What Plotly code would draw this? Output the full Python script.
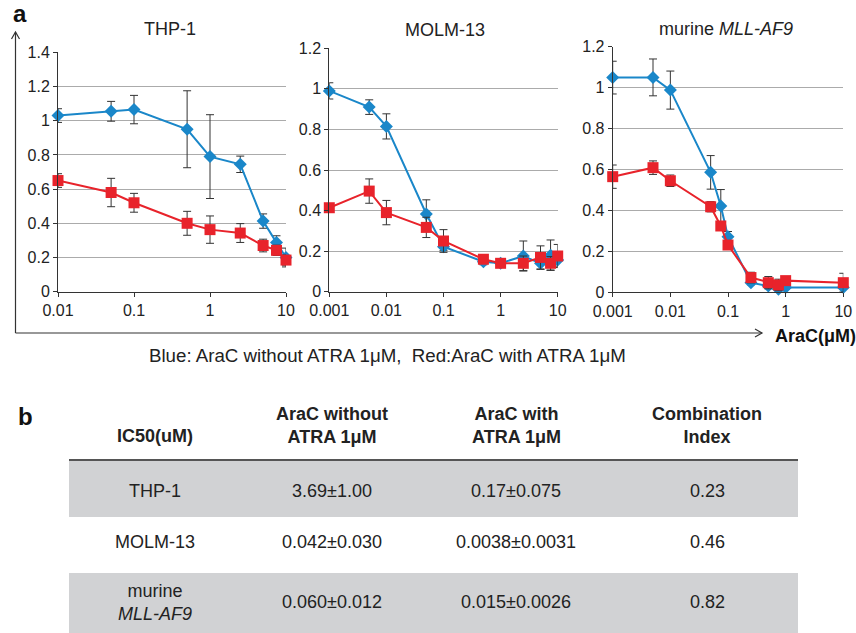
import plotly.graph_objects as go

W, H = 856, 633

# ---------------- data ----------------
thp_x = [0.01, 0.05, 0.1, 0.5, 1, 2.5, 5, 7.5, 10]
thp_blue = [1.03, 1.055, 1.065, 0.95, 0.79, 0.745, 0.413, 0.287, 0.20]
thp_blue_err = [0.04, 0.058, 0.083, 0.225, 0.245, 0.048, 0.042, 0.04, 0.055]
thp_red = [0.65, 0.58, 0.52, 0.40, 0.363, 0.343, 0.27, 0.242, 0.185]
thp_red_err = [0.04, 0.083, 0.055, 0.07, 0.08, 0.055, 0.037, 0.03, 0.03]

molm_x = [0.001, 0.005, 0.01, 0.05, 0.1, 0.5, 1, 2.5, 5, 7.5, 10]
molm_blue = [0.99, 0.91, 0.815, 0.383, 0.222, 0.148, 0.14, 0.176, 0.14, 0.18, 0.156]
molm_blue_err = [0.04, 0.036, 0.062, 0.07, 0.02, 0.015, 0.01, 0.074, 0.03, 0.075, 0.03]
molm_red = [0.414, 0.496, 0.39, 0.317, 0.25, 0.16, 0.14, 0.14, 0.169, 0.14, 0.176]
molm_red_err = [0.0, 0.06, 0.06, 0.05, 0.056, 0.02, 0.01, 0.036, 0.057, 0.033, 0.057]

mll_x = [0.001, 0.005, 0.01, 0.05, 0.075, 0.1, 0.25, 0.5, 0.75, 1, 10]
mll_blue = [1.049, 1.05, 0.988, 0.586, 0.422, 0.272, 0.047, 0.031, 0.015, 0.024, 0.024]
mll_blue_err = [0.08, 0.09, 0.093, 0.082, 0.08, 0.025, 0.01, 0.01, 0.04, 0.01, 0.01]
mll_red = [0.565, 0.609, 0.545, 0.418, 0.324, 0.231, 0.072, 0.047, 0.036, 0.057, 0.047]
mll_red_err = [0.057, 0.033, 0.028, 0.025, 0.02, 0.02, 0.026, 0.03, 0.028, 0.01, 0.046]

panel_titles = ["THP-1", "MOLM-13", "murine <i>MLL-AF9</i>"]
x_ticks_1 = [0.01, 0.1, 1, 10]
x_ticks_1_text = ["0.01", "0.1", "1", "10"]
x_ticks_23 = [0.001, 0.01, 0.1, 1, 10]
x_ticks_23_text = ["0.001", "0.01", "0.1", "1", "10"]
y_ticks_1 = [0, 0.2, 0.4, 0.6, 0.8, 1.0, 1.2, 1.4]
y_ticks_1_text = ["0", "0.2", "0.4", "0.6", "0.8", "1", "1.2", "1.4"]
y_ticks_23 = [0, 0.2, 0.4, 0.6, 0.8, 1.0, 1.2]
y_ticks_23_text = ["0", "0.2", "0.4", "0.6", "0.8", "1", "1.2"]

legend_text = "Blue: AraC without ATRA 1μM,  Red:AraC with ATRA 1μM"
axis_label = "AraC(μM)"

table_header = ["IC50(uM)", "AraC without<br>ATRA 1μM", "AraC with<br>ATRA 1μM", "Combination<br>Index"]
table_rows = [
    ["THP-1", "3.69±1.00", "0.17±0.075", "0.23"],
    ["MOLM-13", "0.042±0.030", "0.0038±0.0031", "0.46"],
    ["murine<br><i>MLL-AF9</i>", "0.060±0.012", "0.015±0.0026", "0.82"],
]

# ---------------- style ----------------
BLUE = "#1a87c9"
RED = "#e8232b"
FONT = "Liberation Sans, Arial, Helvetica, sans-serif"
TXT = "#222222"
TICK_SIZE = 16
TITLE_SIZE = 18
TEXT_SIZE = 18

def px(x):
    return x / W

def py(y):
    return 1 - y / H

fig = go.Figure()

panels = [
    (thp_x, thp_blue, thp_blue_err, thp_red, thp_red_err),
    (molm_x, molm_blue, molm_blue_err, molm_red, molm_red_err),
    (mll_x, mll_blue, mll_blue_err, mll_red, mll_red_err),
]

for i, (xs, yb, eb, yr, er) in enumerate(panels):
    xa = "x" if i == 0 else f"x{i+1}"
    ya = "y" if i == 0 else f"y{i+1}"
    fig.add_trace(go.Scatter(
        x=xs, y=yb, xaxis=xa, yaxis=ya, mode="lines+markers",
        line=dict(color=BLUE, width=2),
        marker=dict(symbol="diamond", size=10, color=BLUE),
        error_y=dict(type="data", array=eb, color="#333333", thickness=1, width=4),
        cliponaxis=False, showlegend=False, hoverinfo="skip",
    ))
    fig.add_trace(go.Scatter(
        x=xs, y=yr, xaxis=xa, yaxis=ya, mode="lines+markers",
        line=dict(color=RED, width=2),
        marker=dict(symbol="square", size=11, color=RED),
        error_y=dict(type="data", array=er, color="#333333", thickness=1, width=4),
        cliponaxis=False, showlegend=False, hoverinfo="skip",
    ))

# panel geometry in pixels: (left, right, top, bottom)
geo = [(58, 286, 52.3, 291.7), (329.3, 557.7, 48.3, 291.7), (612.7, 843.3, 46.7, 292.3)]
xr = [[-2, 1], [-3, 1], [-3, 1]]
yr_ = [[0, 1.4], [0, 1.2], [0, 1.2]]
xt = [(x_ticks_1, x_ticks_1_text), (x_ticks_23, x_ticks_23_text), (x_ticks_23, x_ticks_23_text)]
yt = [(y_ticks_1, y_ticks_1_text), (y_ticks_23, y_ticks_23_text), (y_ticks_23, y_ticks_23_text)]

layout_axes = {}
for i in range(3):
    l, r, t, b = geo[i]
    sfx = "" if i == 0 else str(i + 1)
    layout_axes[f"xaxis{sfx}"] = dict(
        type="log", range=xr[i], domain=[px(l), px(r)], automargin=False,
        anchor=f"y{sfx}", tickvals=xt[i][0], ticktext=xt[i][1],
        showgrid=False, zeroline=False, showline=True, linecolor="#333333", linewidth=1,
        ticks="outside", ticklen=4, tickcolor="#333333",
        tickfont=dict(family=FONT, size=TICK_SIZE, color=TXT),
    )
    layout_axes[f"yaxis{sfx}"] = dict(
        range=yr_[i], domain=[py(b), py(t)], anchor=f"x{sfx}", automargin=False,
        tickvals=yt[i][0], ticktext=yt[i][1],
        showgrid=True, gridcolor="#ababab", gridwidth=1, zeroline=False,
        showline=True, linecolor="#333333", linewidth=1,
        ticks="outside", ticklen=4, tickcolor="#333333",
        tickfont=dict(family=FONT, size=TICK_SIZE, color=TXT),
    )

annotations = []
title_pos = [(170, 29), (445, 30), (726, 29)]
for (tx, ty), ttl in zip(title_pos, panel_titles):
    annotations.append(dict(x=px(tx), y=py(ty), xref="paper", yref="paper", text=ttl,
                            showarrow=False, font=dict(family=FONT, size=TITLE_SIZE, color=TXT),
                            xanchor="center", yanchor="middle"))

annotations.append(dict(x=px(20), y=py(13), xref="paper", yref="paper", text="<b>a</b>",
                        showarrow=False, font=dict(family=FONT, size=24, color="#111"),
                        xanchor="center", yanchor="middle"))
annotations.append(dict(x=px(25), y=py(416), xref="paper", yref="paper", text="<b>b</b>",
                        showarrow=False, font=dict(family=FONT, size=24, color="#111"),
                        xanchor="center", yanchor="middle"))
annotations.append(dict(x=px(773), y=py(336), xref="paper", yref="paper", text=f"<b>{axis_label}</b>",
                        showarrow=False, font=dict(family=FONT, size=18, color="#111"),
                        xanchor="left", yanchor="middle"))
annotations.append(dict(x=px(387), y=py(355), xref="paper", yref="paper", text=legend_text,
                        showarrow=False, font=dict(family=FONT, size=18.7, color=TXT),
                        xanchor="center", yanchor="middle"))

# table
col_x = [155, 332, 516, 707]
for cx, htxt in zip(col_x, table_header):
    yc = 436 if "<br>" not in htxt else 425
    annotations.append(dict(x=px(cx), y=py(yc), xref="paper", yref="paper", text=f"<b>{htxt}</b>",
                            showarrow=False, font=dict(family=FONT, size=TEXT_SIZE, color=TXT),
                            xanchor="center", yanchor="middle", align="center"))
row_y = [491, 542, 602]
for ry, row in zip(row_y, table_rows):
    for cx, cell in zip(col_x, row):
        annotations.append(dict(x=px(cx), y=py(ry), xref="paper", yref="paper", text=cell,
                                showarrow=False, font=dict(family=FONT, size=TEXT_SIZE, color=TXT),
                                xanchor="center", yanchor="middle", align="center"))

GRAY = "#d1d2d4"
shapes = [
    dict(type="rect", xref="paper", yref="paper", x0=px(69), x1=px(798), y0=py(517), y1=py(461),
         fillcolor=GRAY, line=dict(width=0), layer="below"),
    dict(type="rect", xref="paper", yref="paper", x0=px(69), x1=px(798), y0=py(633), y1=py(573),
         fillcolor=GRAY, line=dict(width=0), layer="below"),
    dict(type="line", xref="paper", yref="paper", x0=px(69), x1=px(798), y0=py(460), y1=py(460),
         line=dict(color="#555555", width=2)),
    # big axis arrows
    dict(type="line", xref="paper", yref="paper", x0=px(15.5), x1=px(15.5), y0=py(333), y1=py(32),
         line=dict(color="#333333", width=1.2)),
    dict(type="line", xref="paper", yref="paper", x0=px(15.5), x1=px(762), y0=py(333), y1=py(333),
         line=dict(color="#333333", width=1.2)),
    dict(type="path", xref="paper", yref="paper",
         path=f"M {px(11.5)} {py(39)} L {px(15.5)} {py(32)} L {px(19.5)} {py(39)}",
         line=dict(color="#333333", width=1.2)),
    dict(type="path", xref="paper", yref="paper",
         path=f"M {px(755)} {py(329)} L {px(762)} {py(333)} L {px(755)} {py(337)}",
         line=dict(color="#333333", width=1.2)),
]

fig.update_layout(
    width=W, height=H, margin=dict(l=0, r=0, t=0, b=0, pad=0, autoexpand=False),
    paper_bgcolor="white", plot_bgcolor="white",
    annotations=annotations, shapes=shapes, showlegend=False, hovermode=False,
    **layout_axes,
)

fig.write_html("out.html", config={"displayModeBar": False, "staticPlot": True},
               post_script="document.body.style.margin='0';document.body.style.overflow='hidden';")
